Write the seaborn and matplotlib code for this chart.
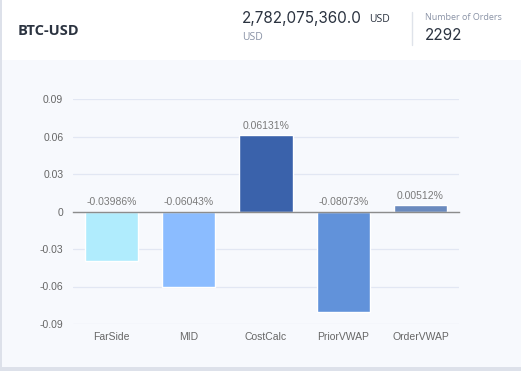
import seaborn as sns
import matplotlib.pyplot as plt
import matplotlib.transforms as mtransforms
from matplotlib.patches import Rectangle
from matplotlib.ticker import FixedLocator
import pandas as pd

# data
methods = ["FarSide", "MID", "CostCalc", "PriorVWAP", "OrderVWAP"]
values = [-0.03986, -0.06043, 0.06131, -0.08073, 0.00512]
bar_colors = ["#b0ecfd", "#8bbcff", "#3a62ab", "#6192da", "#6a8abe"]
yticks = [-0.09, -0.06, -0.03, 0, 0.03, 0.06, 0.09]
ytick_labels = ["-0.09", "-0.06", "-0.03", "0", "0.03", "0.06", "0.09"]

symbol = "BTC-USD"
notional = "2,782,075,360.0"
n_orders = "2292"

df = pd.DataFrame({"method": methods, "value": values})

sns.set_style("white")
plt.rcParams["font.family"] = ["Liberation Sans", "DejaVu Sans"]

fig = plt.figure(figsize=(5.21, 3.71), dpi=100)
fig.patch.set_facecolor("white")

# card panel behind the chart
fig.add_artist(Rectangle((0, 0), 1, 1, transform=fig.transFigure,
                         facecolor="#dde1ea", edgecolor="none", zorder=-3))
fig.add_artist(Rectangle((2 / 521, 4 / 371), 1, 1, transform=fig.transFigure,
                         facecolor="white", edgecolor="none", zorder=-2))
fig.add_artist(Rectangle((2 / 521, 4 / 371), 1, (311 - 4) / 371,
                         transform=fig.transFigure,
                         facecolor="#f7f9fd", edgecolor="none", zorder=-1))

# header
hdr = ["Open Sans", "DejaVu Sans"]
fig.text(18 / 521, 1 - 31 / 371, symbol, fontsize=10.5, fontweight="bold",
         color="#2b3340", family=hdr, va="center", ha="left")
fig.text(242 / 521, 1 - 19 / 371, notional, fontsize=11,
         color="#2b3340", family=["Inter", "DejaVu Sans"], va="center", ha="left")
fig.text(369 / 521, 1 - 20 / 371, "USD", fontsize=7.5, color="#2b3340",
         family=hdr, va="center", ha="left")
fig.text(242 / 521, 1 - 38 / 371, "USD", fontsize=7.5, color="#8a93a6",
         family=hdr, va="center", ha="left")
fig.add_artist(plt.Line2D([412 / 521, 412 / 521], [1 - 12 / 371, 1 - 45 / 371],
                          transform=fig.transFigure, color="#dfe3ea", lw=1))
fig.text(425 / 521, 1 - 17 / 371, "Number of Orders", fontsize=6.5,
         color="#8a93a6", family=hdr, va="center", ha="left")
fig.text(425 / 521, 1 - 35 / 371, n_orders, fontsize=11, color="#2b3340",
         family=["Inter", "DejaVu Sans"], va="center", ha="left")

# chart
ax = fig.add_axes([73 / 521, (371 - 324) / 371, (459 - 73) / 521, 225 / 371])
ax.set_facecolor("none")
sns.barplot(data=df, x="method", y="value", hue="method", palette=bar_colors,
            legend=False, width=0.69, ax=ax, zorder=3, saturation=1)

ax.set_ylim(-0.09, 0.09)
ax.set_xlim(-0.5, len(methods) - 0.5)
ax.set_yticks(yticks)
ax.set_yticklabels(ytick_labels)
ax.tick_params(axis="y", length=0, pad=7, labelsize=7.5, labelcolor="#666666")
ax.grid(axis="y", color="#e2e7f3", lw=0.9, zorder=0)
ax.set_xlabel("")
ax.set_ylabel("")
for s in ["top", "right", "left"]:
    ax.spines[s].set_visible(False)

# x axis line through zero with ticks at category boundaries
ax.spines["bottom"].set_position(("data", 0))
ax.spines["bottom"].set_color("#8c8c8c")
ax.spines["bottom"].set_linewidth(1)
ax.spines["bottom"].set_zorder(4)
ax.xaxis.set_major_locator(FixedLocator([i - 0.5 for i in range(len(methods) + 1)]))
ax.tick_params(axis="x", length=4, width=0.8, color="#8c8c8c", labelbottom=False)

trans = mtransforms.blended_transform_factory(ax.transData, ax.transAxes)
for i, m in enumerate(methods):
    ax.text(i, -0.058, m, transform=trans, ha="center", va="center",
            fontsize=7.5, color="#666666")

for i, v in enumerate(values):
    ax.annotate(f"{v:.5f}%", (i, max(v, 0)), xytext=(0, 3),
                textcoords="offset points", ha="center", va="bottom",
                fontsize=7.5, color="#7a7a7a")

fig.savefig("out.png", dpi=100, facecolor=fig.get_facecolor())
